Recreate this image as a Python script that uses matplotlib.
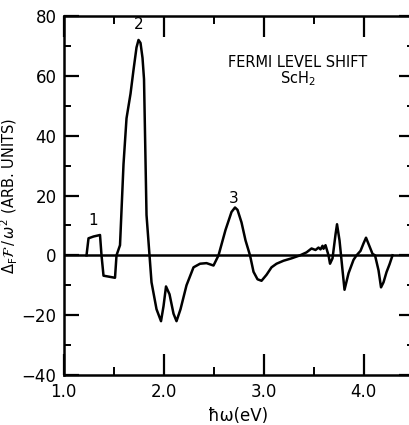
import matplotlib.pyplot as plt
from matplotlib.ticker import MultipleLocator

energy = [1.23, 1.25, 1.30, 1.365, 1.38, 1.40, 1.45, 1.515, 1.53, 1.565, 1.60, 1.63,
          1.67, 1.70, 1.73, 1.75, 1.77, 1.79, 1.805, 1.83, 1.86, 1.88, 1.93, 1.975,
          2.00, 2.025, 2.06, 2.10, 2.13, 2.17, 2.23, 2.30, 2.365, 2.43, 2.50, 2.55,
          2.62, 2.68, 2.715, 2.74, 2.78, 2.82, 2.865, 2.90, 2.94, 2.98, 3.03, 3.08,
          3.13, 3.20, 3.28, 3.365, 3.43, 3.48, 3.52, 3.55, 3.57, 3.59, 3.60, 3.62,
          3.65, 3.665, 3.69, 3.72, 3.735, 3.76, 3.79, 3.81, 3.85, 3.90, 3.93, 3.97,
          4.00, 4.025, 4.06, 4.09, 4.115, 4.15, 4.175, 4.20, 4.23, 4.26, 4.29]
signal = [0.0, 5.7, 6.3, 6.8, 0.0, -6.8, -7.1, -7.5, 0.0, 3.4, 30.5, 45.8,
          54.0, 62.0, 69.5, 72.0, 71.0, 66.0, 58.9, 13.5, 0.0, -9.0, -18.0, -22.0,
          -17.0, -10.4, -13.0, -19.5, -22.0, -18.0, -10.0, -4.0, -2.8, -2.6, -3.4, 0.0,
          8.5, 14.5, 16.0, 15.2, 11.0, 5.0, 0.0, -5.5, -8.0, -8.5, -6.5, -4.0,
          -2.8, -1.8, -1.0, 0.0, 1.0, 2.3, 1.8, 2.6, 2.0, 3.2, 2.2, 3.4,
          0.0, -2.8, -1.0, 7.0, 10.4, 5.0, -5.0, -11.5, -6.0, -1.5, 0.0, 1.5,
          4.0, 5.9, 3.0, 0.5, 0.0, -5.0, -10.7, -9.0, -5.6, -3.0, 0.0]

peak_labels = ['1', '2', '3']
peak_x = [1.30, 1.755, 2.70]
peak_y = [11.8, 77.0, 19.0]

fig = plt.figure(figsize=(4.1, 4.25), dpi=100)
ax = fig.add_axes([0.1549, 0.1176, 0.8537, 0.8447])

ax.plot(energy, signal, color='black', lw=1.8)
ax.axhline(0, color='black', lw=1.8)

for lab, px, py in zip(peak_labels, peak_x, peak_y):
    ax.text(px, py, lab, ha='center', va='center', fontsize=11)

ax.text(3.34, 64.3, 'FERMI LEVEL SHIFT', ha='center', va='center', fontsize=10.5)
ax.text(3.34, 59.0, r'ScH$_2$', ha='center', va='center', fontsize=10.5)

ax.set_xlim(1.0, 4.5)
ax.set_ylim(-40, 80)
ax.xaxis.set_minor_locator(MultipleLocator(0.5))
ax.yaxis.set_major_locator(MultipleLocator(20))
ax.yaxis.set_minor_locator(MultipleLocator(10))
ax.set_xticks([1, 2, 3, 4])
ax.set_xticklabels(['1.0', '2.0', '3.0', '4.0'])

ax.tick_params(axis='x', which='major', direction='in', length=15, width=1.6,
               top=True, labelsize=12, pad=6)
ax.tick_params(axis='x', which='minor', direction='in', length=6, width=1.4, top=True)
ax.tick_params(axis='y', which='major', direction='in', length=11, width=1.6,
               right=True, labelsize=12, pad=5)
ax.tick_params(axis='y', which='minor', direction='in', length=5, width=1.4, right=True)
for s in ax.spines.values():
    s.set_linewidth(1.8)

ax.set_xlabel('ħω(eV)', fontsize=12, labelpad=4)
ax.set_ylabel(r'$\Delta_{\rm F}\mathcal{F}\,/\,\omega^2$ (ARB. UNITS)', fontsize=10.5, labelpad=1)

fig.savefig('out.png', dpi=100)
